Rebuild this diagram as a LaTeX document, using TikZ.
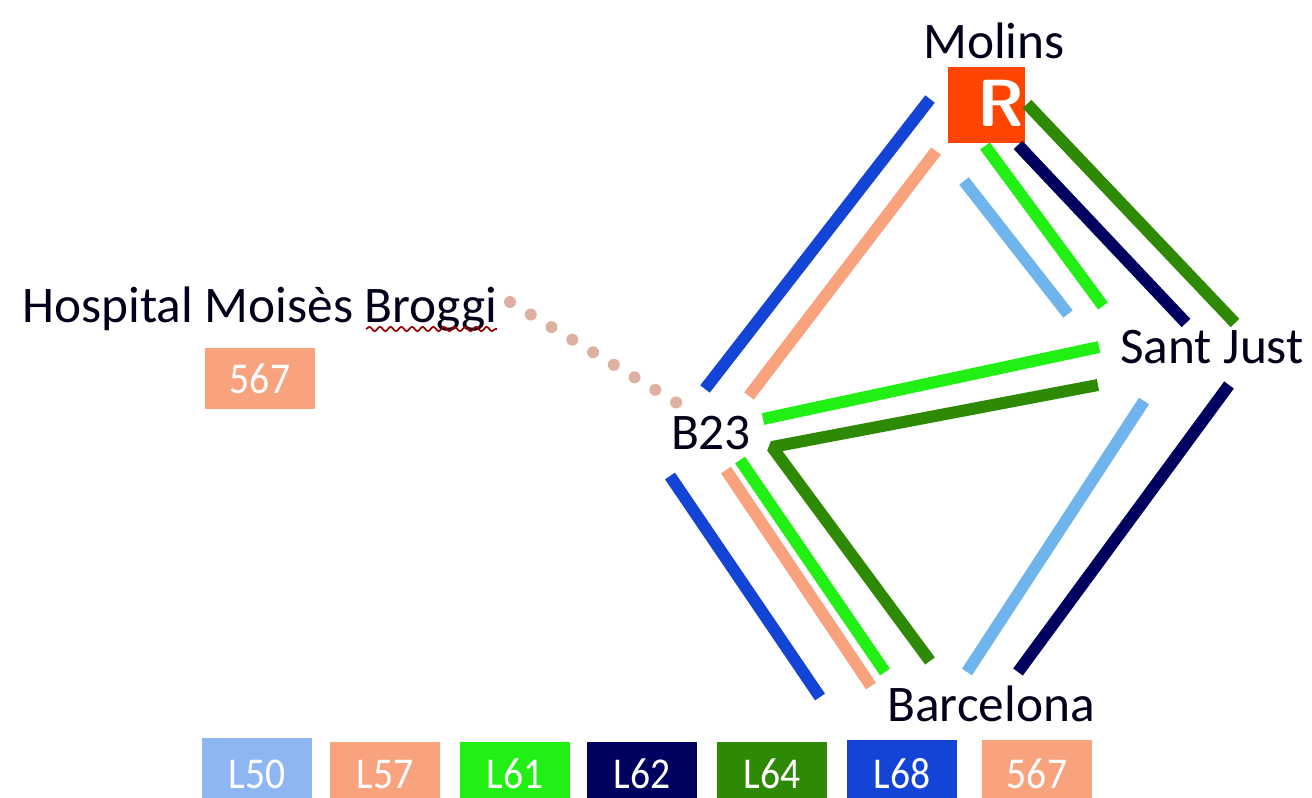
\documentclass[tikz,border=0pt]{standalone}
\usepackage{fontspec}
\setmainfont{Carlito}
\usetikzlibrary{decorations.pathmorphing}
\definecolor{cA}{HTML}{8DB6F2}
\definecolor{cAl}{HTML}{6FB4EC}
\definecolor{cB}{HTML}{F9A27E}
\definecolor{cC}{HTML}{22F014}
\definecolor{cD}{HTML}{00005E}
\definecolor{cE}{HTML}{2E8A04}
\definecolor{cF}{HTML}{1444D6}
\definecolor{cR}{HTML}{FF4500}
\definecolor{cDot}{HTML}{DDB0A0}
\tikzset{
  x=0.75pt,y=-0.75pt,
  place/.style={inner sep=0pt,font=\fontsize{38.5}{38.5}\selectfont,text=black!90!blue},
  line/.style={line width=9pt},
  legend/.style={inner sep=0pt,text=white,font=\fontsize{33}{33}\selectfont},
}
\newcommand{\legendtext}[1]{\scalebox{0.9}[1]{#1}}
\newcommand{\legendbox}[6]{%
  \fill[#5] (#2,#3) rectangle (#2+110,798);
  \node[legend,anchor=base] (#1) at (#2+55,#4) {\legendtext{#6}};}
\begin{document}
\begin{tikzpicture}
\useasboundingbox (0,0) rectangle (1312,798);
\node[place,anchor=base] (molins) at (994,59) {Molins};
\node[place,anchor=base] (santjust) at (1212,363) {Sant Just};
\node[place,anchor=base] (b23) at (711,449) {B23};
\node[place,anchor=base] (barcelona) at (991,721) {Barcelona};
\node[place,anchor=base] (hospital) at (260,323) {Hospital Moisès Broggi};
\draw[red!60!black,line width=1.3pt,decorate,decoration={snake,amplitude=1.6,segment length=8}] (366,329) -- (497,329);
\node[fill=cR,minimum width=57.75pt,minimum height=57pt,inner sep=0pt] (rbox) at (986.5,105) {};
\node[inner sep=0pt,text=white,font=\fontsize{50}{50}\selectfont\bfseries\sffamily,anchor=base] (rlabel) at (1001,127) {R};
\fill[cB] (205,348) rectangle (315,409);
\node[legend,anchor=base] (h567) at (260,393) {\legendtext{567}};
% free line ends
\foreach \n/\x/\y in {
 a1/930/99,a2/705/389,b1/936/151,b2/749/396,c1/964/181,c2/1068/314,
 d1/985/146,d2/1103/306,e1/1018/145,e2/1186/323,f1/1027/104,f2/1235/323,
 g1/763/419,g2/1099/347,h1/772/447,h2/1098/385,i1/930/661,
 j1/740/460,j2/885/672,k1/726/470,k2/871/686,l1/670/476,l2/820/697,
 m1/967/672,m2/1144/401,n1/1018/672,n2/1229/385,o1/510/302,o2/682/406}
  {\coordinate (\n) at (\x,\y);}
\draw[line,cF] (a1) -- (a2);
\draw[line,cB] (b1) -- (b2);
\draw[line,cAl] (c1) -- (c2);
\draw[line,cC] (d1) -- (d2);
\draw[line,cD] (e1) -- (e2);
\draw[line,cE] (f1) -- (f2);
\draw[line,cC] (g1) -- (g2);
\draw[line,cE,line join=bevel] (h2) -- (h1) -- (i1);
\draw[line,cC] (j1) -- (j2);
\draw[line,cB] (k1) -- (k2);
\draw[line,cF] (l1) -- (l2);
\draw[line,cAl] (m1) -- (m2);
\draw[line,cD] (n1) -- (n2);
\draw[cDot,line width=9pt,line cap=round,dash pattern=on 0pt off 18.2pt] (o1) -- (o2);
\legendbox{l50}{202}{738}{788}{cA}{L50}
\legendbox{l57}{330}{742}{788}{cB}{L57}
\legendbox{l61}{460}{742}{788}{cC}{L61}
\legendbox{l62}{587}{742}{788}{cD}{L62}
\legendbox{l64}{717}{742}{788}{cE}{L64}
\legendbox{l68}{847}{740}{788}{cF}{L68}
\legendbox{s567}{982}{740}{788}{cB}{567}
\end{tikzpicture}
\end{document}
